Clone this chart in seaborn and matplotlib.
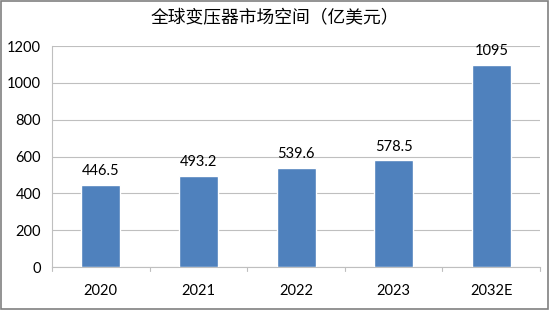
import matplotlib
matplotlib.use("Agg")
import matplotlib.pyplot as plt
import seaborn as sns
import pandas as pd
from matplotlib.patches import Rectangle

categories = ["2020", "2021", "2022", "2023", "2032E"]
values = [446.5, 493.2, 539.6, 578.5, 1095]
value_labels = ["446.5", "493.2", "539.6", "578.5", "1095"]
y_ticks = [0, 200, 400, 600, 800, 1000, 1200]
title = "全球变压器市场空间（亿美元）"

sns.set_theme(style="white")
plt.rcParams['font.family'] = ['Lato', 'Noto Sans CJK SC', 'DejaVu Sans']

df = pd.DataFrame({"year": categories, "value": values})

fig = plt.figure(figsize=(5.5, 3.1), dpi=100)
ax = fig.add_axes([0.0945, 0.1387, 0.8875, 0.7129])
sns.barplot(data=df, x="year", y="value", color="#4F81BD", width=0.4,
            saturation=1, ax=ax, zorder=3)

ax.set_ylim(0, 1200)
ax.set_xlim(-0.5, len(categories) - 0.5)
ax.set_yticks(y_ticks)
ax.set_yticklabels([str(t) for t in y_ticks], fontsize=10.5, color="#000000")
ax.tick_params(axis="x", labelsize=10.5, length=0, pad=12, colors="#000000")
ax.set_xlabel("")
ax.set_ylabel("")
for t in y_ticks:
    ax.axhline(t, color="#BFBFBF", lw=0.8, zorder=0)
ax.tick_params(axis="y", length=4, color="#BFBFBF", direction="out", pad=4)
# category boundary ticks
for b in [i + 0.5 for i in range(len(categories) - 1)] + [-0.5, len(categories) - 0.5]:
    ax.plot([b, b], [0, -0.02], transform=ax.get_xaxis_transform(), color="#BFBFBF",
            lw=0.8, clip_on=False)

for s in ["top", "right"]:
    ax.spines[s].set_visible(False)
ax.spines["left"].set_color("#BFBFBF")
ax.spines["bottom"].set_color("#BFBFBF")
ax.spines["left"].set_linewidth(0.8)
ax.spines["bottom"].set_linewidth(0.8)

for p, lab in zip(ax.patches, value_labels):
    ax.annotate(lab, (p.get_x() + p.get_width() / 2, p.get_height()),
                xytext=(0, 5), textcoords="offset points", ha="center", va="bottom",
                fontsize=10.5, color="#000000")

fig.text(0.5, 0.94, title, ha="center", va="center", fontsize=12.8,
         family=['Noto Sans CJK SC', 'DejaVu Sans'], color="#000000")

fig.patches.append(Rectangle((0.002, 0.003), 0.995, 0.994, transform=fig.transFigure,
                             fill=False, edgecolor="#808080", lw=1.2))

fig.savefig("out.png", dpi=100)
